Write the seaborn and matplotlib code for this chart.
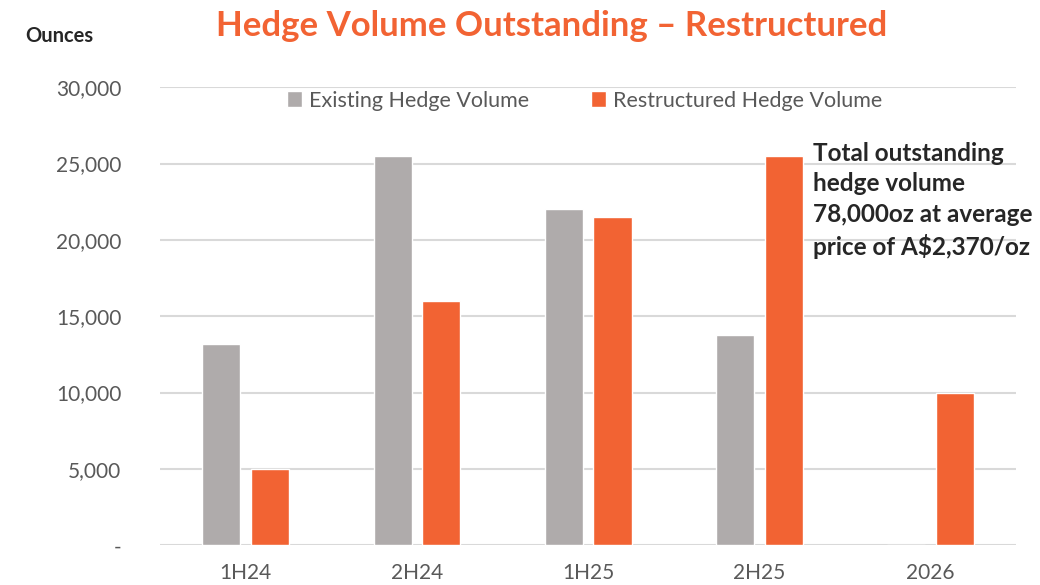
import pandas as pd
import seaborn as sns
import matplotlib.pyplot as plt
from matplotlib.ticker import FuncFormatter

# Datos
periodos = ['1H24', '2H24', '1H25', '2H25', '2026']
existente = [13200, 25500, 22000, 13750, 0]
reestructurado = [5000, 16000, 21500, 25500, 10000]
series = ['Existing Hedge Volume', 'Restructured Hedge Volume']
colores = ['#AFABAB', '#F26333']

df = pd.DataFrame({
    'Periodo': periodos * 2,
    'Volumen': existente + reestructurado,
    'Serie': [series[0]] * len(periodos) + [series[1]] * len(periodos),
})

sns.set_theme(style="white")
plt.rcParams['font.family'] = ['Lato', 'DejaVu Sans']

fig = plt.figure(figsize=(10.4, 5.85), dpi=100)
ax = fig.add_axes([0.154, 0.068, 0.823, 0.783])

sns.barplot(data=df, x='Periodo', y='Volumen', hue='Serie', palette=colores,
            width=0.57, gap=0.22, saturation=1, ax=ax)

ax.set_ylim(0, 30000)
ax.set_yticks(range(0, 30001, 5000))
ax.yaxis.set_major_formatter(FuncFormatter(lambda v, p: '-' if v == 0 else f'{v:,.0f}'))
ax.grid(True, axis='y', color='#D9D9D9', linewidth=1.5)
ax.set_axisbelow(True)
for s in ax.spines.values():
    s.set_visible(False)
ax.tick_params(axis='both', labelsize=15, labelcolor='#595959', length=0)
ax.tick_params(axis='y', pad=28)
ax.tick_params(axis='x', pad=13)
ax.set_xlabel('')
ax.set_ylabel('')

ax.legend(loc='upper center', bbox_to_anchor=(0.496, 1.035), ncol=2, frameon=False,
          fontsize=15.5, labelcolor='#595959', handlelength=0.7, handleheight=0.7,
          handletextpad=0.3, columnspacing=2.9)

fig.text(0.530, 0.955, 'Hedge Volume Outstanding – Restructured', ha='center', va='center',
         fontsize=25, fontweight='bold', color='#F26333')
fig.text(0.024, 0.938, 'Ounces', ha='left', va='center', fontsize=14.5,
         fontweight='bold', color='#262626')
fig.text(0.782, 0.757, 'Total outstanding\nhedge volume\n78,000oz at average\nprice of A$2,370/oz',
         ha='left', va='top', fontsize=17.5, fontweight='bold', color='#262626',
         linespacing=1.38)

plt.savefig('out.png', dpi=100)
